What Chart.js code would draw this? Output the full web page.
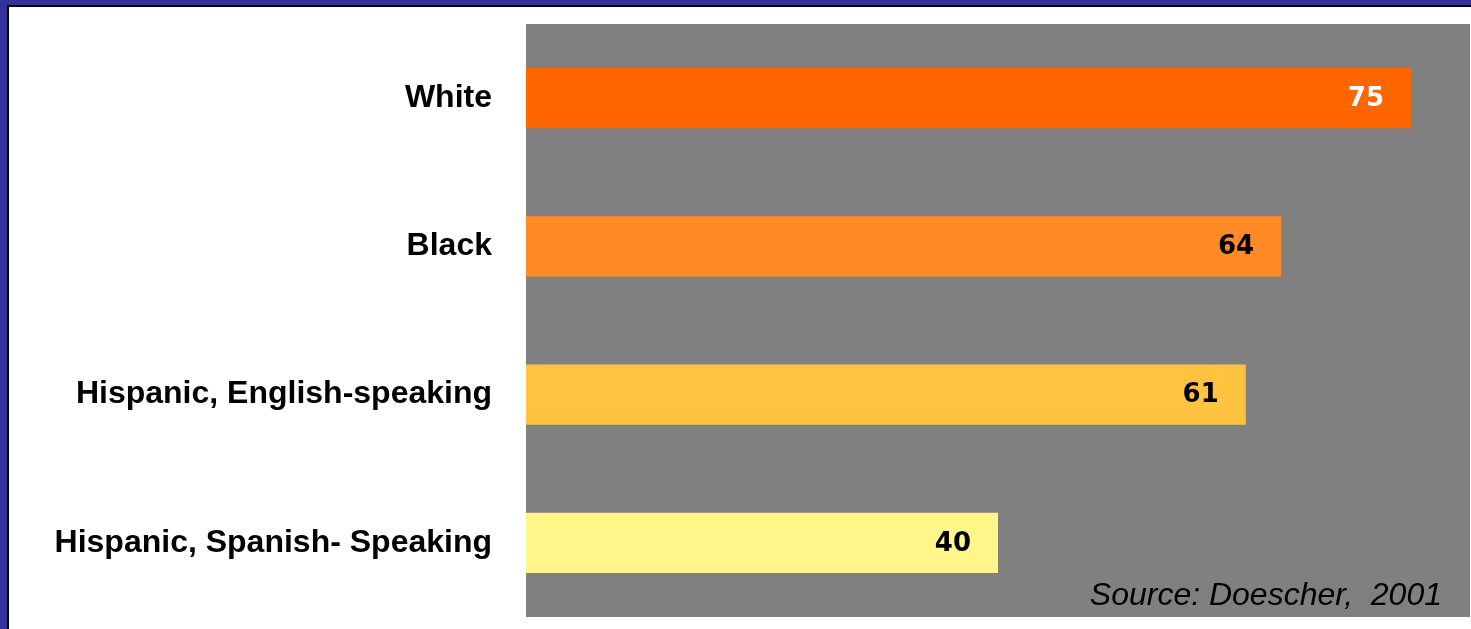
<!DOCTYPE html>
<html>
<head>
<meta charset="utf-8">
<script src="https://cdn.jsdelivr.net/npm/chart.js@4/dist/chart.umd.min.js"></script>
<style>
  html, body { margin: 0; padding: 0; width: 1471px; height: 629px; overflow: hidden; background: #333399; }
  #frame { position: absolute; left: 7px; top: 5px; width: 1470px; height: 630px;
           border-left: 2px solid #000; border-top: 2px solid #000; background: #ffffff; }
  #wrap { position: absolute; left: 0; top: 0; width: 1471px; height: 629px; }
</style>
</head>
<body>
<div id="frame"></div>
<div id="wrap"><canvas id="c" width="1471" height="629"></canvas></div>
<script>
// ---- data ----
const categories = ["White", "Black", "Hispanic, English-speaking", "Hispanic, Spanish- Speaking"];
const values = [75, 64, 61, 40];
const axisMin = 0;
const axisMax = 80;
const sourceText = "Source: Doescher,  2001";

// ---- styles ----
const barColors = ["#FF6600", "#FF8A26", "#FFC340", "#FFF68A"];
const valueLabelColors = ["#FFFFFF", "#000000", "#000000", "#000000"];

const plotBg = {
  id: 'plotBg',
  beforeDraw(chart) {
    const { ctx, chartArea: a } = chart;
    ctx.save();
    ctx.fillStyle = '#808080';
    ctx.fillRect(a.left, a.top, a.right - a.left, a.bottom - a.top);
    ctx.restore();
  }
};

const valueLabels = {
  id: 'valueLabels',
  afterDatasetsDraw(chart) {
    const { ctx } = chart;
    const meta = chart.getDatasetMeta(0);
    ctx.save();
    ctx.font = 'bold 26px "DejaVu Sans", Verdana, sans-serif';
    ctx.textAlign = 'right';
    ctx.textBaseline = 'middle';
    meta.data.forEach((bar, i) => {
      ctx.fillStyle = valueLabelColors[i];
      ctx.fillText(String(chart.data.datasets[0].data[i]), bar.x - 27, bar.y + 1);
    });
    ctx.restore();
  }
};

const sourceNote = {
  id: 'sourceNote',
  afterDraw(chart) {
    const { ctx, chartArea: a } = chart;
    ctx.save();
    ctx.font = 'italic 32px "Liberation Sans", Arial, sans-serif';
    ctx.fillStyle = '#000000';
    ctx.textAlign = 'right';
    ctx.textBaseline = 'alphabetic';
    ctx.fillText(sourceText, a.right - 28, a.bottom - 12);
    ctx.restore();
  }
};

new Chart(document.getElementById('c'), {
  type: 'bar',
  data: {
    labels: categories,
    datasets: [{
      data: values,
      backgroundColor: barColors,
      borderWidth: 0,
      barPercentage: 0.405,
      categoryPercentage: 1.0
    }]
  },
  options: {
    indexAxis: 'y',
    responsive: false,
    animation: false,
    devicePixelRatio: 1,
    layout: { padding: { top: 24, bottom: 12, right: 1, left: 0 } },
    plugins: {
      legend: { display: false },
      tooltip: { enabled: false }
    },
    scales: {
      x: {
        min: axisMin, max: axisMax,
        display: false,
        grid: { display: false }
      },
      y: {
        grid: { display: false, drawTicks: false },
        border: { display: false },
        afterFit(scale) { scale.width = 526; scale.paddingTop = 0; scale.paddingBottom = 0; },
        ticks: {
          padding: 34,
          color: '#000000',
          font: { family: '"Liberation Sans", Arial, sans-serif', size: 32, weight: 'bold' }
        }
      }
    }
  },
  plugins: [plotBg, valueLabels, sourceNote]
});
</script>
</body>
</html>
